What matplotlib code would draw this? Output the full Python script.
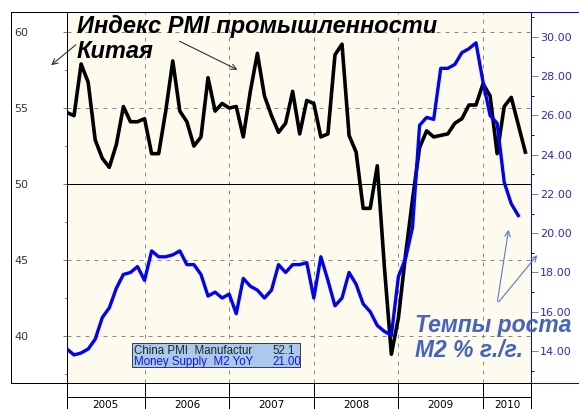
import matplotlib
matplotlib.use("Agg")
import matplotlib.pyplot as plt
from matplotlib.lines import Line2D
from matplotlib.patches import Rectangle, FancyArrowPatch
from matplotlib.ticker import MultipleLocator, FormatStrFormatter
import numpy as np

W, H = 579, 409

# China PMI Manufacturing, Jan 2005 .. Jun 2010
pmi = [
    54.7, 54.5, 57.9, 56.7, 52.9, 51.7, 51.1, 52.6, 55.1, 54.1, 54.1, 54.3,
    52.0, 52.0, 54.8, 58.1, 54.8, 54.1, 52.5, 53.1, 57.0, 54.8, 55.3, 55.0,
    55.1, 53.1, 56.1, 58.6, 55.8, 54.5, 53.4, 54.0, 56.1, 53.3, 55.5, 55.3,
    53.1, 53.3, 58.5, 59.2, 53.2, 52.1, 48.4, 48.4, 51.2, 44.6, 38.8, 41.2,
    45.3, 49.0, 52.4, 53.5, 53.1, 53.2, 53.3, 54.0, 54.3, 55.2, 55.2, 56.6,
    55.8, 52.0, 55.1, 55.7, 53.9, 52.1,
]
# Money Supply M2 YoY %, Jan 2005 .. May 2010
m2 = [
    14.1, 13.8, 13.9, 14.1, 14.6, 15.7, 16.2, 17.2, 17.9, 18.0, 18.3, 17.6,
    19.1, 18.8, 18.8, 18.9, 19.1, 18.4, 18.4, 17.9, 16.8, 17.0, 16.7, 16.9,
    15.9, 17.7, 17.3, 17.1, 16.7, 17.1, 18.4, 18.0, 18.4, 18.4, 18.5, 16.7,
    18.8, 17.6, 16.3, 16.7, 18.0, 17.4, 16.4, 16.0, 15.3, 15.0, 14.8, 17.8,
    18.7, 20.3, 25.5, 25.9, 25.8, 28.4, 28.4, 28.6, 29.2, 29.4, 29.7, 27.7,
    26.0, 25.6, 22.6, 21.5, 20.9,
]
years = ["2005", "2006", "2007", "2008", "2009", "2010"]
legend_names = ["China PMI  Manufactur", "Money Supply  M2 YoY"]
legend_values = ["52.1", "21.00"]

BLUE = "#0000ff"
TEXT_BLUE = "#4563c2"
CREAM = "#fdfaee"
px = 0.72  # one pixel in points at dpi 100

x_pmi = np.arange(len(pmi))
x_m2 = np.arange(len(m2))
year_edges = [11 + 12 * k for k in range(len(years) - 1)]
x_lo, x_hi = 0, 65.8


def fig_rect(x0, y0, x1, y1):
    return [x0 / W, 1 - y1 / H, (x1 - x0) / W, (y1 - y0) / H]


fig = plt.figure(figsize=(W / 100, H / 100), dpi=100)

# left label panel
axl = fig.add_axes(fig_rect(11, 12, 67, 383))
axl.set_xticks([])
axl.set_yticks([])
for s in axl.spines.values():
    s.set_linewidth(px)
    s.set_color("black")

# main plot
ax = fig.add_axes(fig_rect(67, 12, 531, 383))
ax.set_facecolor(CREAM)
ax.plot(x_pmi, pmi, color="black", linewidth=2.6, solid_joinstyle="round", zorder=3)
ax.set_xlim(x_lo, x_hi)
ax.set_ylim(36.91, 61.32)
ax.yaxis.set_major_locator(MultipleLocator(5))
ax.yaxis.set_minor_locator(MultipleLocator(2.5))
for v in [40, 45, 55, 60]:
    ax.axhline(v, color="#8a8a8a", linewidth=px, linestyle=(0, (4, 5)), zorder=1)
ax.axhline(50, color="black", linewidth=px, zorder=2)
for e in year_edges:
    ax.axvline(e, color="#8a8a8a", linewidth=px, linestyle=(0, (4, 5)), zorder=1)
ax.set_xticks([])
ax.tick_params(axis="y", which="major", length=4 * px, width=px, color="#777777",
               pad=35.3, labelsize=8, labelcolor="#333333")
ax.tick_params(axis="y", which="minor", length=2 * px, width=px, color="#555555")
for lab in ax.get_yticklabels():
    lab.set_horizontalalignment("left")
for s in ax.spines.values():
    s.set_linewidth(px)
    s.set_color("black")
ax.spines["right"].set_visible(False)

# right axis: M2
ax2 = ax.twinx()
ax2.plot(x_m2, m2, color=BLUE, linewidth=2.4, solid_joinstyle="round", zorder=3)
ax2.set_ylim(12.37, 31.27)
ax2.yaxis.set_major_locator(MultipleLocator(2))
ax2.yaxis.set_minor_locator(MultipleLocator(1))
ax2.yaxis.set_major_formatter(FormatStrFormatter("%.2f"))
ax2.tick_params(axis="y", which="major", length=7 * px, width=px, color="#888888",
                pad=1.5, labelsize=8, labelcolor="#2a2ad8")
ax2.tick_params(axis="y", which="minor", length=3 * px, width=px, color=BLUE)
for k in ["top", "bottom", "left"]:
    ax2.spines[k].set_visible(False)
ax2.spines["right"].set_color(BLUE)
ax2.spines["right"].set_linewidth(px)

# blue frame lines to the right of the plot
for y in [12, 383]:
    fig.add_artist(Line2D([531 / W, 1], [1 - y / H, 1 - y / H], color=BLUE,
                          linewidth=px, transform=fig.transFigure))

# bottom year strip
axb = fig.add_axes(fig_rect(67, 383, 531, 409))
axb.set_xlim(x_lo, x_hi)
axb.set_ylim(0, 1)
axb.set_xticks([])
axb.set_yticks([])
axb.spines["bottom"].set_visible(False)
for s in axb.spines.values():
    s.set_linewidth(px)
    s.set_color("black")
axb.axhline(12 / 26, color="black", linewidth=px)
for e in year_edges:
    axb.axvline(e, color="black", linewidth=px)
bounds = [x_lo] + year_edges + [x_hi]
for i, yr in enumerate(years):
    axb.text((bounds[i] + bounds[i + 1]) / 2, 1 / 26, yr, ha="center", va="baseline",
             fontsize=7.5, color="black")

# legend box
fig.add_artist(Rectangle((132 / W, 1 - 367 / H), (300 - 132) / W, (367 - 343) / H,
                         transform=fig.transFigure, facecolor="#a9c9ee",
                         edgecolor="#404040", linewidth=px))
for row, (name, val, col) in enumerate(zip(legend_names, legend_values, ["#1c2a1c", "#1515e0"])):
    yb = 1 - (353.5 + 11.5 * row) / H
    fig.text(134 / W, yb, name, fontsize=8.3, family="Liberation Sans", color=col, va="baseline")
    fig.text(272 / W, yb, val, fontsize=8.3, family="Liberation Sans", color=col, va="baseline")

# annotations
title_kw = dict(fontsize=17, family="Liberation Sans", weight="bold", style="italic", va="baseline")
fig.text(77 / W, 1 - 33 / H, "Индекс PMI промышленности", color="black", **title_kw)
fig.text(77 / W, 1 - 58 / H, "Китая", color="black", **title_kw)
blue_kw = dict(title_kw, fontsize=16.5)
fig.text(415 / W, 1 - 332 / H, "Темпы роста", color=TEXT_BLUE, **blue_kw)
fig.text(415 / W, 1 - 357 / H, "M2 % г./г.", color=TEXT_BLUE, **blue_kw)

arrows = [((78, 43), (49, 67), "#333333"), ((177, 40), (240, 71), "#333333"),
          ((497, 304), (509, 227), "#5a78c8"), ((497, 304), (539, 253), "#5a78c8")]
for (tx, ty), (hx, hy), col in arrows:
    fig.add_artist(FancyArrowPatch(
        (tx / W, 1 - ty / H), (hx / W, 1 - hy / H), transform=fig.transFigure,
        arrowstyle="->", mutation_scale=10, color=col, linewidth=0.8))

fig.savefig("out.png", dpi=100)
plt.close()
